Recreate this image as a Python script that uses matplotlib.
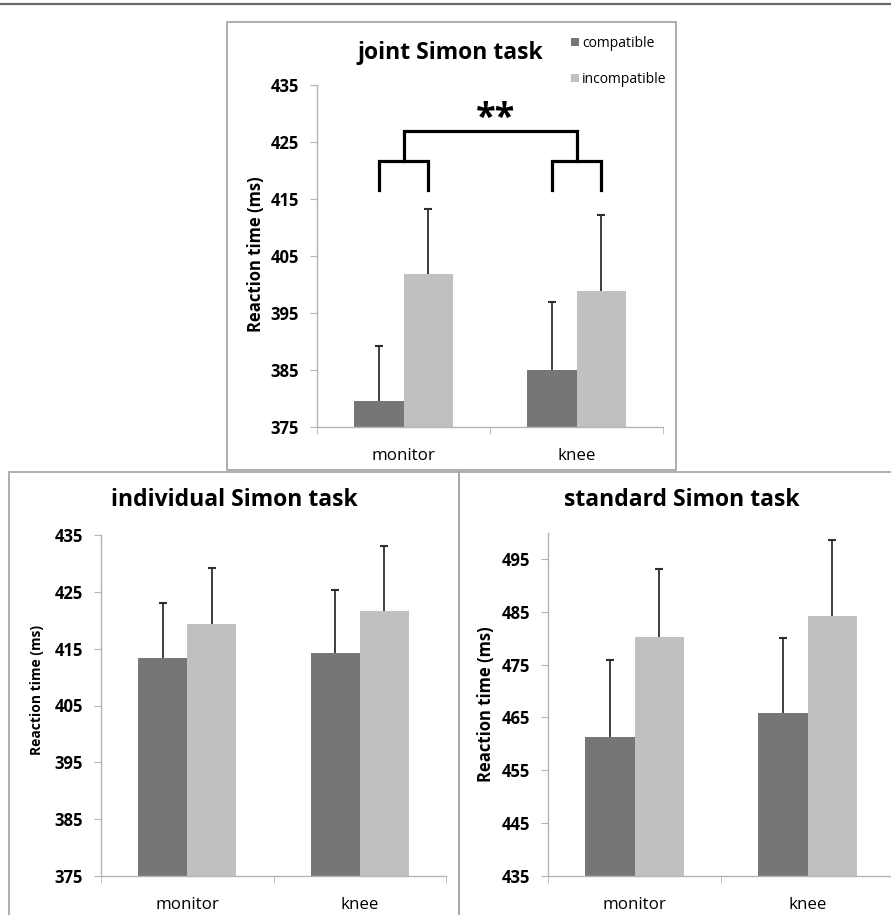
import numpy as np
import matplotlib.pyplot as plt
from matplotlib.patches import Rectangle, Patch
from matplotlib.lines import Line2D

plt.rcParams['font.family'] = ['Open Sans', 'DejaVu Sans']

# data
categories = ['monitor', 'knee']

joint_comp = [379.6, 385.0]
joint_comp_err = [9.6, 11.9]
joint_incomp = [401.9, 398.8]
joint_incomp_err = [11.4, 13.3]

indiv_comp = [413.4, 414.2]
indiv_comp_err = [9.7, 11.2]
indiv_incomp = [419.3, 421.7]
indiv_incomp_err = [9.9, 11.3]

stand_comp = [461.2, 465.8]
stand_comp_err = [14.6, 14.2]
stand_incomp = [480.2, 484.3]
stand_incomp_err = [12.9, 14.3]

# significance bracket (joint task)
bracket_low = 416.5
bracket_mid = 421.6
bracket_top = 427.0

DARK = '#767676'
LIGHT = '#c0c0c0'
AXCOL = '#b4b4b4'
W, H = 891, 915
BARW = 0.285


def box(x0, y0, x1, y1):
    # pixel box -> figure fraction [l, b, w, h]
    return [x0 / W, 1 - y1 / H, (x1 - x0) / W, (y1 - y0) / H]


def panel(rect, comp, comp_err, incomp, incomp_err, ylim, yticks):
    ax = fig.add_axes(rect)
    x = np.arange(len(categories))
    ax.bar(x - BARW, comp, BARW, align='edge', color=DARK)
    ax.bar(x, incomp, BARW, align='edge', color=LIGHT)
    for xs, vals, errs in [(x - BARW / 2, comp, comp_err), (x + BARW / 2, incomp, incomp_err)]:
        eb = ax.errorbar(xs, vals, yerr=[np.zeros(len(errs)), errs], fmt='none',
                         ecolor='#2e2e2e', elinewidth=1.3, capsize=3, capthick=1.5)
        eb[1][0].set_visible(False)  # only the upper cap
    ax.set_ylim(*ylim)
    ax.set_xlim(-0.5, 1.5)
    ax.set_yticks(yticks)
    ax.set_yticklabels([str(t) for t in yticks], fontweight='bold', fontsize=12)
    ax.set_xticks(x)
    ax.set_xticklabels(categories, fontsize=12.2)
    ax.set_xticks([-0.5, 0.5, 1.5], minor=True)
    ax.tick_params(axis='x', which='major', length=0, pad=15)
    ax.tick_params(axis='x', which='minor', length=5, color=AXCOL, direction='out')
    ax.tick_params(axis='y', length=5, color=AXCOL, pad=8)
    for s in ['top', 'right']:
        ax.spines[s].set_visible(False)
    for s in ['left', 'bottom']:
        ax.spines[s].set_color(AXCOL)
        ax.spines[s].set_linewidth(1.0)
    ax.set_facecolor('none')
    return ax


fig = plt.figure(figsize=(W / 100, H / 100), dpi=100)

# panel frames and top rule
frame = dict(fill=False, edgecolor='#a8a8a8', lw=1.3, transform=fig.transFigure)
for b in [box(227, 22, 676, 470), box(9, 472, 459, 925), box(459, 472, 900, 925)]:
    fig.add_artist(Rectangle(b[:2], b[2], b[3], **frame))
fig.add_artist(Line2D([0, 1], [1 - 3.5 / H] * 2, color='#6a6a6a', lw=1.6))

ax1 = panel(box(317, 85, 663, 426.7), joint_comp, joint_comp_err, joint_incomp, joint_incomp_err,
            (375, 435), range(375, 436, 10))
ax2 = panel(box(101, 535, 446, 876), indiv_comp, indiv_comp_err, indiv_incomp, indiv_incomp_err,
            (375, 435), range(375, 436, 10))
ax3 = panel(box(548, 532.7, 894, 875.7), stand_comp, stand_comp_err, stand_incomp, stand_incomp_err,
            (435, 500), range(435, 496, 10))

# bracket on joint task
c = np.arange(len(categories))
for ci in c:
    ax1.plot([ci - BARW / 2, ci - BARW / 2, ci + BARW / 2, ci + BARW / 2],
             [bracket_low, bracket_mid, bracket_mid, bracket_low], color='black', lw=2.3,
             solid_joinstyle='miter')
ax1.plot([c[0], c[0], c[1], c[1]], [bracket_mid, bracket_top, bracket_top, bracket_mid],
         color='black', lw=2.3, solid_joinstyle='miter')
ax1.text(c.mean() + 0.03, bracket_top - 1.2, '**', ha='center', va='bottom', fontsize=26, fontweight='bold')

# titles
tkw = dict(ha='center', va='center', fontsize=16.5, fontweight='bold')
fig.text(450 / W, 1 - 53 / H, 'joint Simon task', **tkw)
fig.text(234 / W, 1 - 500 / H, 'individual Simon task', **tkw)
fig.text(682 / W, 1 - 500 / H, 'standard Simon task', **tkw)

# y labels
lkw = dict(rotation=90, ha='center', va='center', fontweight='bold')
fig.text(255.5 / W, 1 - 254 / H, 'Reaction time (ms)', fontsize=12, **lkw)
fig.text(37.5 / W, 1 - 690 / H, 'Reaction time (ms)', fontsize=10, **lkw)
fig.text(486 / W, 1 - 704 / H, 'Reaction time (ms)', fontsize=12, **lkw)

# legend
handles = [Patch(facecolor=DARK, label='compatible'), Patch(facecolor=LIGHT, label='incompatible')]
fig.legend(handles=handles, loc='upper left', bbox_to_anchor=(571 / W, 1 - 36 / H), frameon=False,
           fontsize=10, handlelength=0.55, handleheight=0.55, handletextpad=0.25, labelspacing=1.5,
           borderpad=0, borderaxespad=0)

fig.savefig('out.png', dpi=100)
